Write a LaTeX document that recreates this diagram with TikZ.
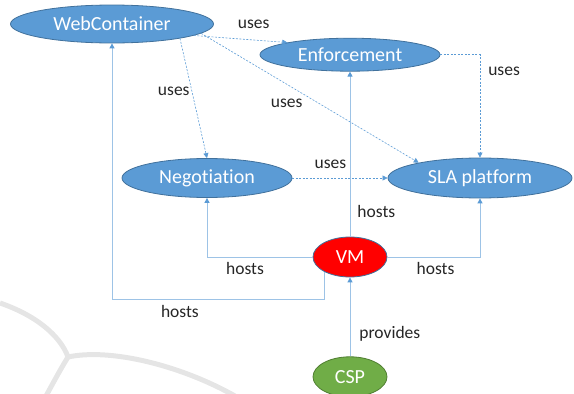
\documentclass[tikz,border=0pt]{standalone}
\usepackage{fontspec}
\setmainfont{Carlito}[Ligatures={NoCommon}]
\usepackage{xcolor}
\definecolor{nodeblue}{RGB}{91, 155, 213}
\definecolor{nodeline}{RGB}{65, 113, 156}
\definecolor{vmred}{RGB}{255, 0, 0}
\definecolor{cspgreen}{RGB}{112, 173, 71}
\definecolor{cspline}{RGB}{80, 126, 50}
\definecolor{linkblue}{RGB}{157, 195, 230}
\definecolor{tipblue}{RGB}{91, 155, 213}
\definecolor{watermark}{RGB}{229, 229, 229}
\usepackage{tikz}
\usetikzlibrary{shapes, arrows.meta, positioning}
\tikzstyle{component} = [ellipse, draw=nodeline, fill=nodeblue, text=white, inner sep=0pt, line width=0.8pt, font=\fontsize{20}{24}\selectfont]
\tikzstyle{host} = [component, fill=vmred, minimum width=74pt, minimum height=40pt]
\tikzstyle{provider} = [component, draw=cspline, fill=cspgreen, minimum width=74pt, minimum height=40pt]
\tikzstyle{hostarrow} = [draw=linkblue, line width=0.9pt, -{Triangle[length=5pt, width=5pt, color=tipblue]}]
\tikzstyle{usesarrow} = [draw=tipblue, line width=0.6pt, dash pattern=on 2pt off 1.5pt, -{Triangle[length=5pt, width=5pt, color=tipblue]}]
\tikzstyle{lbl} = [inner sep=0pt, text=black!85, font=\fontsize{17.5}{21}\selectfont]

\begin{document}
\begin{tikzpicture}[x=1pt, y=-1pt, node distance=79pt]
    \useasboundingbox (0,0) rectangle (574,394);
    \draw[watermark, line width=5pt] (0,303) .. controls (35,315) and (60,335) .. (68,357) .. controls (110,348) and (180,365) .. (235,396);
    \draw[watermark, line width=5pt] (68,357) .. controls (60,370) and (52,385) .. (46,396);

    \node[host] (vm) at (350,257) {VM};
    \node[provider, below=of vm] (csp) {CSP};
    \node[component, above=165pt of vm, minimum width=180pt, minimum height=33pt] (enf) {Enforcement};
    \node[component, minimum width=203pt, minimum height=38pt] (webc) at (112,24) {WebContainer};
    \node[component, minimum width=170pt, minimum height=39pt] (neg) at (207,178) {Negotiation};
    \node[component, minimum width=184pt, minimum height=40pt] (sla) at (480,178) {SLA platform};

    \draw[usesarrow] (webc.-8) -- node[lbl, pos=0.64, above=11pt] {uses} (enf.169);
    \draw[usesarrow] (webc.-12) -- node[lbl, pos=0.44, left=2pt] {uses} (neg.north);
    \draw[usesarrow] (webc.-6) -- node[lbl, pos=0.48, below left=4pt] {uses} (sla.166);
    \draw[usesarrow] (enf.east) -| node[lbl, pos=0.58, right=8pt] {uses} (sla.north);
    \draw[usesarrow] (neg) -- node[lbl, pos=0.4, above=9pt] {uses} (sla);

    \draw[hostarrow] (vm) -- node[lbl, pos=0.15, right=7pt] {hosts} (enf);
    \draw[hostarrow] (vm.west) -| node[lbl, pos=0.32, below=5pt] {hosts} (neg.south);
    \draw[hostarrow] (vm.east) -| node[lbl, pos=0.26, below=5pt] {hosts} (sla.south);
    \draw[hostarrow] (vm.210) -- ++(0,28) -| node[lbl, pos=0.34, below=5pt] {hosts} (webc.south);
    \draw[hostarrow] (csp) -- node[lbl, pos=0.28, right=9pt] {provides} (vm);
\end{tikzpicture}
\end{document}
